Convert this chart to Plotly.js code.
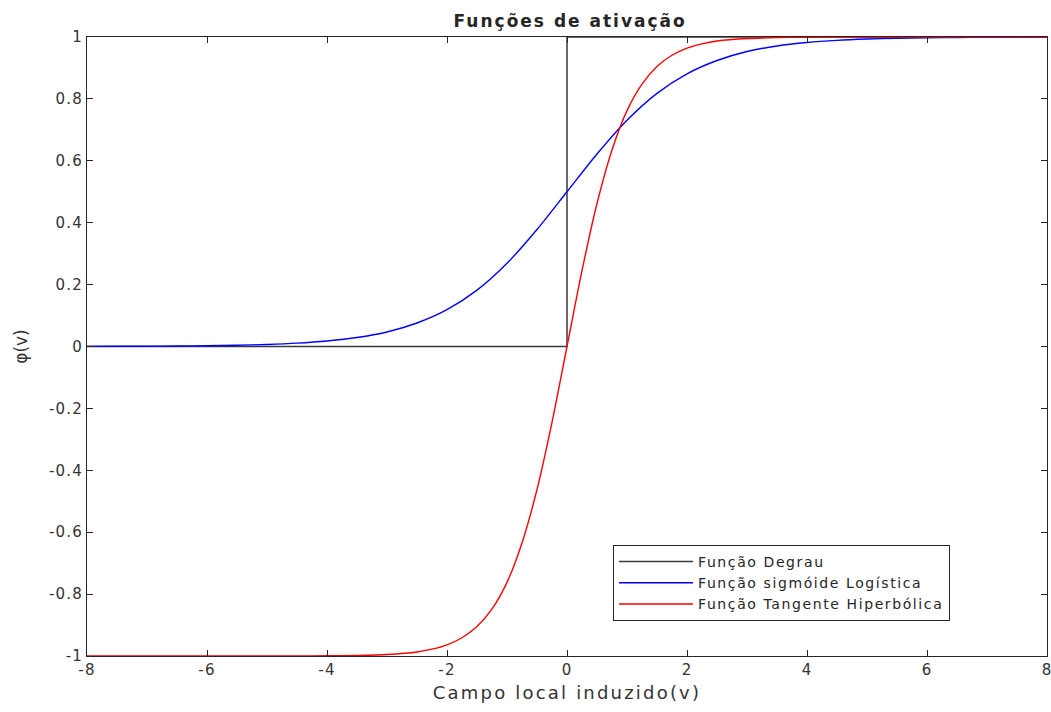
<!DOCTYPE html>
<html><head><meta charset="utf-8">
<script src="https://cdn.plot.ly/plotly-3.0.1.min.js"></script>
<style>
html,body{margin:0;padding:0;background:#fff}
#chart{width:1051px;height:712px}
.legendtext{letter-spacing:1.6px}
.gtitle{letter-spacing:2px}
.xtitle{letter-spacing:2.2px}
.xtick text,.ytick text{letter-spacing:1.2px}
</style>
</head><body><div id="chart"></div>
<script>
// Step function (Função Degrau)
const stepX = [-8, 0, 0, 8];
const stepY = [0, 0, 1, 1];

// Logistic sigmoid, values
const sigX = [-8,-7.5,-7,-6.5,-6,-5.5,-5,-4.5,-4,-3.5,-3,-2.5,-2,-1.5,-1,-0.5,0,0.5,1,1.5,2,2.5,3,3.5,4,4.5,5,5.5,6,6.5,7,7.5,8];
const sigY = [0.0003,0.0006,0.0009,0.0015,0.0025,0.004,0.0067,0.011,0.018,0.029,0.047,0.076,0.119,0.182,0.269,0.378,0.5,0.622,0.731,0.818,0.881,0.924,0.953,0.971,0.982,0.989,0.9933,0.996,0.9975,0.9985,0.9991,0.9994,0.9997];

// Hyperbolic tangent, values
const tanX = [-8,-7,-6,-5,-4.5,-4,-3.5,-3,-2.5,-2.25,-2,-1.75,-1.5,-1.25,-1,-0.75,-0.5,-0.25,0,0.25,0.5,0.75,1,1.25,1.5,1.75,2,2.25,2.5,3,3.5,4,4.5,5,6,7,8];
const tanY = [-1,-1,-1,-0.9999,-0.9998,-0.9993,-0.998,-0.995,-0.987,-0.978,-0.964,-0.941,-0.905,-0.848,-0.762,-0.635,-0.462,-0.245,0,0.245,0.462,0.635,0.762,0.848,0.905,0.941,0.964,0.978,0.987,0.995,0.998,0.9993,0.9998,0.9999,1,1,1];

const names = ['Função Degrau', 'Função sigmóide Logística', 'Função Tangente Hiperbólica'];
const xTicks = [-8,-6,-4,-2,0,2,4,6,8];
const yTicks = [-1,-0.8,-0.6,-0.4,-0.2,0,0.2,0.4,0.6,0.8,1];

const txt = '#262626';
const fam = 'DejaVu Sans, Liberation Sans, Arial, sans-serif';
const data = [
  {x: stepX, y: stepY, mode: 'lines', name: names[0], line: {color: '#3a3a3a', width: 1.5}},
  {x: sigX, y: sigY, mode: 'lines', name: names[1], line: {color: '#0000ff', width: 1.4, shape: 'spline', smoothing: 0.8}},
  {x: tanX, y: tanY, mode: 'lines', name: names[2], line: {color: '#ff0000', width: 1.4, shape: 'spline', smoothing: 0.8}}
];
const axCommon = {
  showgrid: false, zeroline: false, showline: true, linecolor: txt, linewidth: 1,
  mirror: 'ticks', ticks: 'inside', ticklen: 6, tickcolor: txt, tickwidth: 1,
  ticklabeloverflow: 'allow',
  tickfont: {family: fam, size: 15, color: '#333333'}
};
const layout = {
  width: 1051, height: 712,
  paper_bgcolor: '#ffffff', plot_bgcolor: '#ffffff',
  margin: {l: 87, r: 4, t: 37, b: 56},
  title: {text: '<b>Funções de ativação</b>', x: 0.5425, xanchor: 'center', y: 1 - 21/712, yanchor: 'middle',
          font: {family: fam, size: 17, color: txt}},
  xaxis: Object.assign({}, axCommon, {
    range: [-8, 8], tickvals: xTicks, ticktext: xTicks.map(String),
    title: {text: 'Campo local induzido(v)', standoff: 8, font: {family: fam, size: 18, color: '#333333'}}
  }),
  yaxis: Object.assign({}, axCommon, {
    range: [-1, 1], tickvals: yTicks, ticktext: yTicks.map(String),
    title: {text: 'φ(v)', standoff: 16, font: {family: fam, size: 17, color: '#333333'}}
  }),
  showlegend: true,
  legend: {x: (613 - 87) / 960, xanchor: 'left', y: (656 - 545) / 619, yanchor: 'top',
           bgcolor: '#ffffff', bordercolor: txt, borderwidth: 1,
           font: {family: fam, size: 14, color: txt},
           tracegroupgap: 0, itemwidth: 74}
};
Plotly.newPlot('chart', data, layout, {displayModeBar: false, staticPlot: true});
</script>
</body></html>
